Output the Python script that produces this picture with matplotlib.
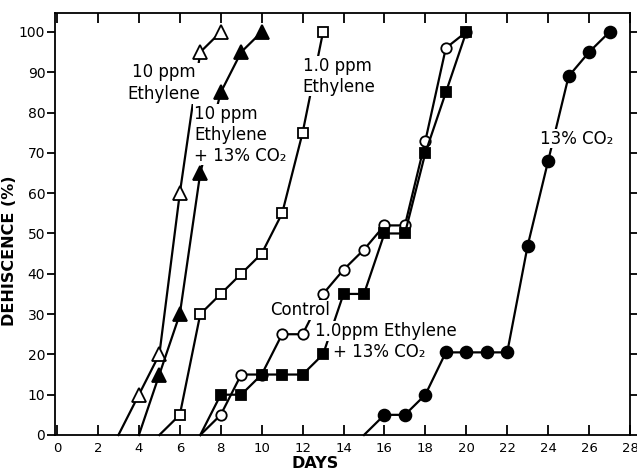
import matplotlib
matplotlib.use("Agg")
import matplotlib.pyplot as plt

# ---- data ----
days_eth10 = [3, 4, 5, 6, 7, 8]
dehis_eth10 = [0, 10, 20, 60, 95, 100]

days_eth10_co2 = [4, 5, 6, 7, 8, 9, 10]
dehis_eth10_co2 = [0, 15, 30, 65, 85, 95, 100]

days_eth1 = [5, 6, 7, 8, 9, 10, 11, 12, 13]
dehis_eth1 = [0, 5, 30, 35, 40, 45, 55, 75, 100]

days_control = [7, 8, 9, 10, 11, 12, 13, 14, 15, 16, 17, 18, 19, 20]
dehis_control = [0, 5, 15, 15, 25, 25, 35, 41, 46, 52, 52, 73, 96, 100]

days_eth1_co2 = [7, 8, 9, 10, 11, 12, 13, 14, 15, 16, 17, 18, 19, 20]
dehis_eth1_co2 = [0, 10, 10, 15, 15, 15, 20, 35, 35, 50, 50, 70, 85, 100]

days_co2 = [15, 16, 17, 18, 19, 20, 21, 22, 23, 24, 25, 26, 27]
dehis_co2 = [0, 5, 5, 10, 20.5, 20.5, 20.5, 20.5, 47, 68, 89, 95, 100]

x_ticks = list(range(0, 29, 2))
y_ticks = list(range(0, 101, 10))

fig = plt.figure(figsize=(6.37, 4.71), dpi=100)
ax = fig.add_axes([55/637, 1 - 435/471, 575/637, 422/471])

lw = 1.6
def series(x, y, marker, filled, ms):
    ax.plot(x, y, color="black", lw=lw, marker=marker, ms=ms,
            markerfacecolor="black" if filled else "white",
            markeredgecolor="black", markeredgewidth=1.3,
            markevery=list(range(1, len(x))), zorder=3, clip_on=False)

series(days_eth10, dehis_eth10, "^", False, 9.5)
series(days_eth10_co2, dehis_eth10_co2, "^", True, 9.5)
series(days_eth1, dehis_eth1, "s", False, 7)
series(days_control, dehis_control, "o", False, 7.5)
series(days_eth1_co2, dehis_eth1_co2, "s", True, 7)
series(days_co2, dehis_co2, "o", True, 8.5)

ax.set_xlim(-0.1, 28)
ax.set_ylim(0, 104.7)
ax.set_xticks(x_ticks)
ax.set_yticks(y_ticks)
ax.tick_params(axis="x", which="both", direction="in", length=7, width=1.3,
               top=True, labelsize=9.5, pad=5)
ax.tick_params(axis="y", which="both", direction="out", length=6, width=1.3,
               right=True, labelsize=10, pad=1)
for s in ax.spines.values():
    s.set_linewidth(1.3)

ax.set_xlabel("DAYS", fontsize=11.5, fontweight="bold")
ax.xaxis.set_label_coords((12.6 + 0.1) / 28.1, -0.05)
ax.set_ylabel("DEHISCENCE (%)", fontsize=11.5, fontweight="bold")
ax.yaxis.set_label_coords(-0.066, 0.436)

box = dict(facecolor="white", edgecolor="none", pad=0.5)
fs = 12
ax.text(5.2, 87.3, "10 ppm\nEthylene", ha="center", va="center", fontsize=fs,
        linespacing=1.25, bbox=box, zorder=4)
ax.text(6.7, 74.5, "10 ppm\nEthylene\n+ 13% CO₂", ha="left", va="center",
        fontsize=fs, linespacing=1.2, bbox=box, zorder=4)
ax.text(12.0, 89, "1.0 ppm\nEthylene", ha="left", va="center", fontsize=fs,
        linespacing=1.2, bbox=box, zorder=4)
ax.text(25.4, 73.5, "13% CO₂", ha="center", va="center", fontsize=fs,
        bbox=box, zorder=4)
ax.text(11.9, 31, "Control", ha="center", va="center", fontsize=fs,
        bbox=box, zorder=4)
ax.text(12.6, 25.8, "1.0ppm Ethylene", ha="left", va="center",
        fontsize=fs, bbox=box, zorder=4)
ax.text(13.5, 20.6, "+ 13% CO₂", ha="left", va="center",
        fontsize=fs, bbox=box, zorder=4)

fig.savefig("out.png", dpi=100)
